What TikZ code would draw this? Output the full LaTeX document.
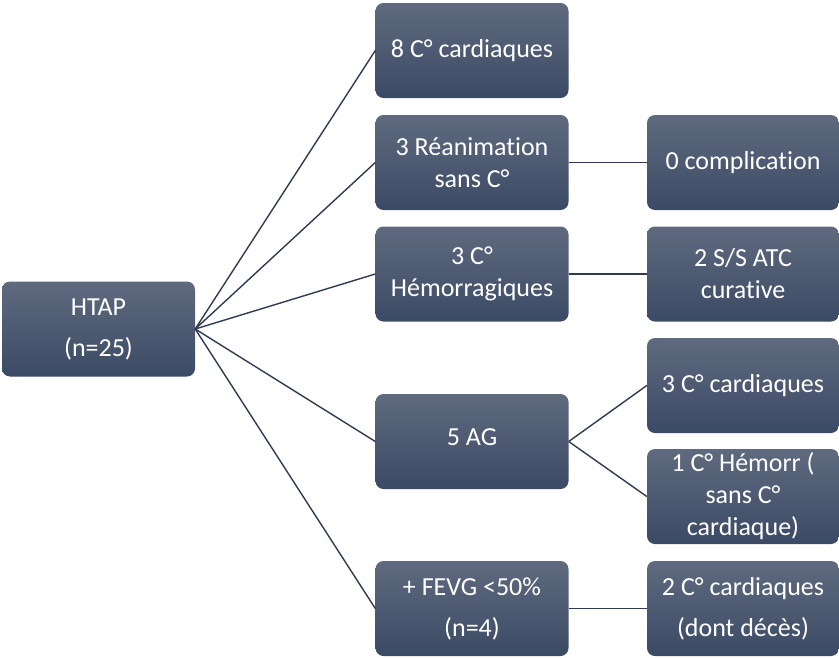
\documentclass[tikz,border=0pt]{standalone}
\usepackage{fontspec}
\setmainfont{Carlito}[Ligatures=NoCommon]
\begin{document}
\begin{tikzpicture}[x=1pt,y=1pt,
  box/.style={rounded corners=8pt, top color=boxtop, bottom color=boxbot,
    text=white, align=center, inner sep=0pt,
    minimum width=193pt, minimum height=95pt,
    font=\fontsize{26}{32}\selectfont},
  link/.style={draw=linec, line width=1.4pt}]
\definecolor{boxtop}{HTML}{5F6A7E}
\definecolor{boxbot}{HTML}{3B4A65}
\definecolor{linec}{HTML}{2F3B50}
\useasboundingbox (0,0) rectangle (839,-657);
\node[box] (htap) at (98.5,-329) {HTAP\\[9pt](n=25)};
\node[box] (b1) at (472,-50.5) {8 C° cardiaques};
\node[box] (b2) at (472,-162.5) {3 Réanimation\\sans C°};
\node[box] (b3) at (472,-274) {3 C°\\Hémorragiques};
\node[box] (b4) at (472,-441.5) {\raisebox{8pt}{5 AG}};
\node[box] (b5) at (472,-608.5) {+ FEVG <50\%\\[9pt](n=4)};
\node[box, minimum width=192pt] (c1) at (743,-162.5) {0 complication};
\node[box, minimum width=192pt] (c2) at (743,-274) {2 S/S ATC\\curative};
\node[box, minimum width=192pt] (c3) at (743,-385.5) {3 C° cardiaques};
\node[box, minimum width=192pt] (c4) at (743,-496.5) {1 C° Hémorr (\\sans C°\\cardiaque)};
\node[box, minimum width=192pt] (c5) at (743,-608.5) {2 C° cardiaques\\[9pt](dont décès)};
\foreach \b in {b1,b2,b3,b4,b5} \draw[link] (htap.east) -- (\b.west);
\draw[link] (b2.east) -- (c1.west);
\draw[link] (b3.east) -- (c2.west);
\draw[link] (b4.east) -- (c3.west);
\draw[link] (b4.east) -- (c4.west);
\draw[link] (b5.east) -- (c5.west);
\end{tikzpicture}
\end{document}
